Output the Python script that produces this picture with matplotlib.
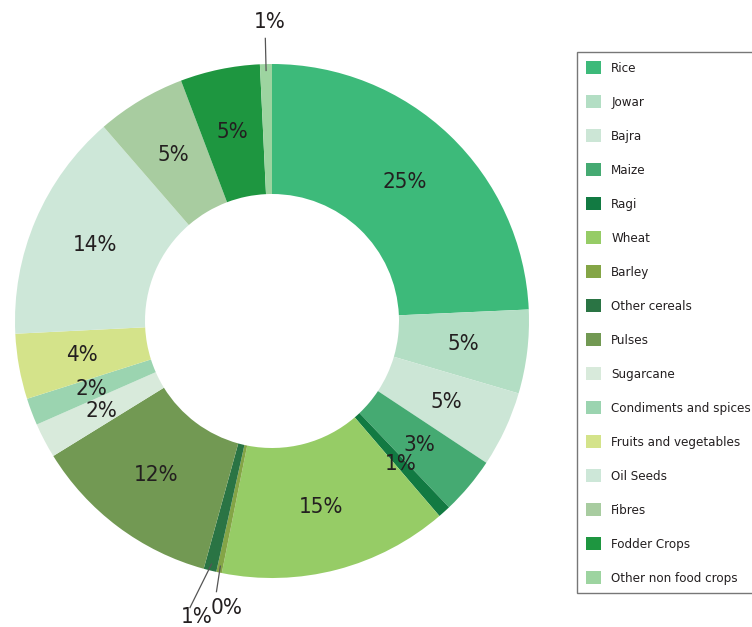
import numpy as np
import matplotlib
matplotlib.use("Agg")
import matplotlib.pyplot as plt
from matplotlib import font_manager

# crop shares (percent of area)
crops = ["Rice", "Jowar", "Bajra", "Maize", "Ragi", "Wheat", "Barley",
         "Other cereals", "Pulses", "Sugarcane", "Condiments and spices",
         "Fruits and vegetables", "Oil Seeds", "Fibres", "Fodder Crops",
         "Other non food crops"]
shares = [24.25, 5.25, 4.75, 3.6, 0.8, 14.4, 0.35, 0.8, 11.9, 2.2, 1.7,
          4.1, 14.4, 5.6, 5.0, 0.75]
labels = ["25%", "5%", "5%", "3%", "1%", "15%", "0%", "1%", "12%", "2%",
          "2%", "4%", "14%", "5%", "5%", "1%"]
colors = ["#3dba7a", "#b3dec4", "#cce6d6", "#45aa72", "#127a42", "#96cc66",
          "#84a546", "#2a7444", "#729953", "#d8eadb", "#9bd4b0", "#d4e38a",
          "#cde7d8", "#a8cca0", "#1e9640", "#9dd4a0"]
# small slices labelled outside: (line end radius, line angle shift,
# text radius, text angle shift)
outside = {"Barley": (1.075, 0.3, 1.13, 3.0),
           "Other cereals": (1.16, -2.0, 1.19, -0.3),
           "Other non food crops": (1.1, 0.0, 1.165, -0.9)}

names = {f.name for f in font_manager.fontManager.ttflist}
if "Liberation Sans Narrow" in names:
    font = dict(family="Liberation Sans Narrow")
else:
    font = dict(family="DejaVu Sans", stretch="condensed")
ink = "#231f20"

fig = plt.figure(figsize=(7.52, 6.27), dpi=100)
ax = fig.add_axes([0, 0, 1, 1])

R = 257
cx, cy = 272, 627 - 321
wedges, _ = ax.pie(shares, colors=colors, startangle=90, counterclock=False,
                   radius=R, center=(cx, cy), frame=True,
                   wedgeprops=dict(width=130, linewidth=0))
ax.set_xlim(0, 752)
ax.set_ylim(0, 627)
ax.set_aspect("equal")
ax.axis("off")

for w, name, lab in zip(wedges, crops, labels):
    mid = (w.theta1 + w.theta2) / 2
    if name in outside:
        rl, al, rt, at = outside[name]
        a0 = np.deg2rad(mid)
        a1 = np.deg2rad(mid + al)
        ax.plot([cx + 0.975 * R * np.cos(a0), cx + rl * R * np.cos(a1)],
                [cy + 0.975 * R * np.sin(a0), cy + rl * R * np.sin(a1)],
                color="#555555", lw=0.9)
        a = np.deg2rad(mid + at)
        ax.text(cx + rt * R * np.cos(a), cy + rt * R * np.sin(a), lab,
                ha="center", va="center", fontsize=16, color=ink, **font)
    else:
        a = np.deg2rad(mid)
        r = 0.75 * R
        ax.text(cx + r * np.cos(a), cy + r * np.sin(a), lab,
                ha="center", va="center", fontsize=16, color=ink, **font)

leg = fig.legend(wedges, crops, loc="upper left",
                 bbox_to_anchor=(577 / 752, 1 - 52 / 627),
                 prop=font_manager.FontProperties(size=9.5, **font),
                 handlelength=1.2, handleheight=1.2, handletextpad=0.75,
                 labelspacing=1.5, borderpad=0.65, borderaxespad=0,
                 fancybox=False, edgecolor="#555555", labelcolor=ink)
leg.get_frame().set_linewidth(1.0)

fig.savefig("out.png", dpi=100)
